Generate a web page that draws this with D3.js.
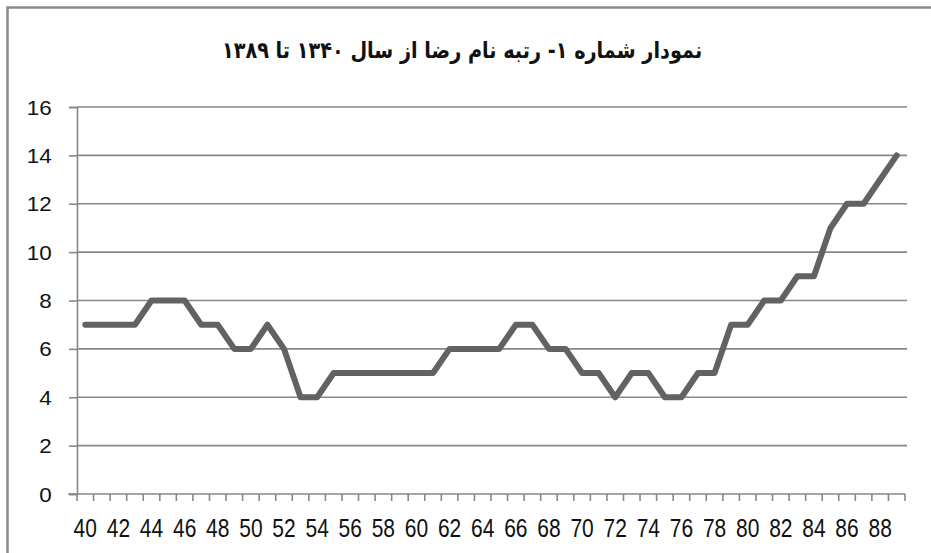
<!DOCTYPE html>
<html>
<head>
<meta charset="utf-8">
<script src="https://cdn.jsdelivr.net/npm/d3@7"></script>
<style>
  body { margin: 0; background: #fff; }
  svg { display: block; }
</style>
</head>
<body>
<div id="chart"></div>
<script>
// rank of the name "Reza", years 1340..1389 (labels shown as 40..89)
var years = d3.range(40, 90);
var ranks = [7, 7, 7, 7, 8, 8, 8, 7, 7, 6,
             6, 7, 6, 4, 4, 5, 5, 5, 5, 5,
             5, 5, 6, 6, 6, 6, 7, 7, 6, 6,
             5, 5, 4, 5, 5, 4, 4, 5, 5, 7,
             7, 8, 8, 9, 9, 11, 12, 12, 13, 14];
var yTicks = [0, 2, 4, 6, 8, 10, 12, 14, 16];
var titleText = "نمودار شماره ۱- رتبه نام رضا از سال ۱۳۴۰ تا ۱۳۸۹";

var W = 931, H = 553;
// plot area (note: "top" would clash with window.top)
var pLeft = 77, pRight = 905, pTop = 107, pBottom = 494;
var axisCol = "#878787";

var svg = d3.select("#chart").append("svg")
    .attr("width", W)
    .attr("height", H);

// outer frame (right / bottom edges fall outside the picture)
svg.append("rect")
    .attr("x", 7.5).attr("y", 7.5)
    .attr("width", W + 20).attr("height", H + 20)
    .attr("fill", "none")
    .attr("stroke", "#8a8a8a")
    .attr("stroke-width", 2.5);

var x = d3.scaleBand().domain(years).range([pLeft, pRight]);
var y = d3.scaleLinear().domain([0, 16]).range([pBottom, pTop]);

// gridlines
svg.append("g").selectAll("line")
    .data(yTicks.filter(function (d) { return d > 0; }))
    .join("line")
    .attr("x1", pLeft).attr("x2", pRight + 2)
    .attr("y1", function (d) { return y(d); })
    .attr("y2", function (d) { return y(d); })
    .attr("stroke", axisCol)
    .attr("stroke-width", 1.6);

// y axis
var yAxis = svg.append("g")
    .attr("transform", "translate(" + pLeft + ",0)")
    .call(d3.axisLeft(y).tickValues(yTicks).tickSize(8).tickPadding(0).tickFormat(d3.format("d")));
yAxis.select(".domain").attr("stroke", axisCol).attr("stroke-width", 1.6);
yAxis.selectAll(".tick line").attr("stroke", axisCol).attr("stroke-width", 1.6);
yAxis.selectAll(".tick text").remove();
yAxis.selectAll(".tick").append("text")
    .attr("x", -22).attr("y", 0).attr("dy", "0.36em")
    .attr("text-anchor", "end")
    .attr("transform", "scale(1.15,1)")
    .attr("font-family", "'Liberation Sans', Arial, sans-serif")
    .attr("font-size", 19.5)
    .attr("fill", "#111")
    .text(function (d) { return d; });

// x axis: ticks on band edges, labels every second year
var xg = svg.append("g").attr("transform", "translate(0," + pBottom + ")");
xg.append("line")
    .attr("x1", pLeft - 9).attr("x2", pRight)
    .attr("stroke", axisCol).attr("stroke-width", 1.6);
xg.selectAll("line.tk")
    .data(years.concat([90]))
    .join("line")
    .attr("class", "tk")
    .attr("x1", function (d, i) { return pLeft + i * x.bandwidth(); })
    .attr("x2", function (d, i) { return pLeft + i * x.bandwidth(); })
    .attr("y1", 0).attr("y2", 7)
    .attr("stroke", axisCol).attr("stroke-width", 1.6);
xg.selectAll("text")
    .data(years.filter(function (d) { return d % 2 === 0; }))
    .join("text")
    .attr("transform", function (d) {
        return "translate(" + (x(d) + x.bandwidth() / 2) + ",43) scale(0.84,1)";
    })
    .attr("text-anchor", "middle")
    .attr("font-family", "'Liberation Sans', Arial, sans-serif")
    .attr("font-size", 25)
    .attr("fill", "#111")
    .text(function (d) { return d; });

// the line
var line = d3.line()
    .x(function (d, i) { return x(years[i]) + x.bandwidth() / 2; })
    .y(function (d) { return y(d); });

svg.append("path")
    .datum(ranks)
    .attr("d", line)
    .attr("fill", "none")
    .attr("stroke", "#626262")
    .attr("stroke-width", 6)
    .attr("stroke-linejoin", "round")
    .attr("stroke-linecap", "round");

// title, stretched a bit vertically to match the heavier original face
var title = svg.append("text")
    .attr("x", 0).attr("y", 0)
    .attr("text-anchor", "middle")
    .attr("direction", "rtl")
    .attr("font-family", "'DejaVu Sans', 'Noto Sans', sans-serif")
    .attr("font-weight", "bold")
    .attr("font-size", 22)
    .attr("fill", "#111")
    .attr("transform", "translate(462,58) scale(1,1.18)")
    .text(titleText);
var tw = title.node().getComputedTextLength();
if (tw > 0) {
    title.attr("font-size", 22 * 480 / tw);
}
</script>
</body>
</html>
